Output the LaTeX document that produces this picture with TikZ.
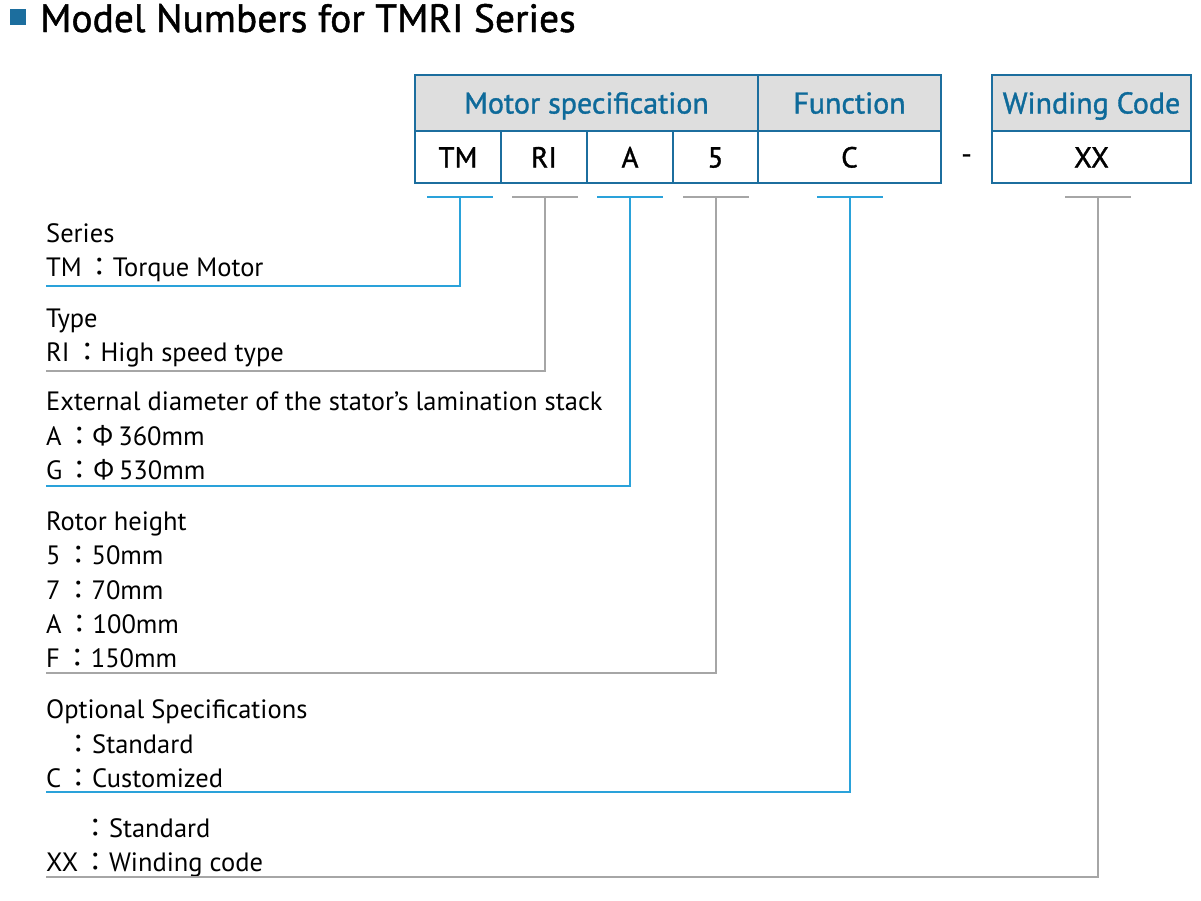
\documentclass[tikz,border=0pt]{standalone}
\usepackage{fontspec}
\setmainfont{PT Sans}
\newfontfamily\cjk{Noto Sans CJK TC}
\newfontfamily\medfont{PT Sans}[FakeBold=1.2]
\definecolor{bordblue}{HTML}{1C6E9E}
\definecolor{headblue}{HTML}{0E6A9A}
\definecolor{lineblue}{HTML}{2AA2DA}
\definecolor{linegray}{HTML}{A6A6A6}
\definecolor{headbg}{HTML}{DEDEDE}
\newcommand{\cc}{\,{\cjk ：}}
\newcommand{\phisym}{{\cjk Φ}\,}
\tikzset{
  txt/.style={anchor=base west, inner sep=0pt, font=\fontsize{26.5}{30}\selectfont},
  hcell/.style={draw=bordblue, line width=1.2pt, fill=headbg, inner sep=0pt, minimum height=56pt, text height=21pt, text depth=0pt, text=headblue, font=\medfont\fontsize{30}{33}\selectfont},
  vcell/.style={draw=bordblue, line width=1.2pt, fill=white, inner sep=0pt, minimum height=52pt, text height=21pt, text depth=0pt, font=\medfont\fontsize{29}{32}\selectfont},
  blueline/.style={draw=lineblue, line width=2pt},
  grayline/.style={draw=linegray, line width=2pt},
  outer/.style={draw=bordblue, line width=2.6pt}
}
\begin{document}
\begin{tikzpicture}[x=1pt,y=-1pt]
\useasboundingbox (0,0) rectangle (1201,900);
\fill[white] (0,0) rectangle (1201,900);
% title
\fill[bordblue] (10,9) rectangle (26,25);
\node[anchor=base west, inner sep=0pt, font=\medfont\fontsize{39.5}{42}\selectfont] (title) at (40,32) {Model Numbers for TMRI Series};
% header cells
\node[hcell, minimum width=343pt] (hmotor) at (586.5,103) {Motor specification};
\node[hcell, minimum width=183pt] (hfunc) at (849.5,103) {Function};
\node[hcell, minimum width=199pt] (hwind) at (1091.5,103) {Winding Code};
% value cells
\node[vcell, minimum width=86pt] (tm) at (458,157) {TM};
\node[vcell, minimum width=86pt] (ri) at (544,157) {RI};
\node[vcell, minimum width=86pt] (a) at (630,157) {A};
\node[vcell, minimum width=85pt] (five) at (715.5,157) {5};
\node[vcell, minimum width=183pt] (c) at (849.5,157) {C};
\node[vcell, minimum width=199pt] (xx) at (1091.5,157) {XX};
\node[inner sep=0pt, font=\medfont\fontsize{29}{32}\selectfont] (dash) at (966.5,159) {-};
% outer frames
\draw[outer] (415,75) rectangle (941,183);
\draw[outer] (992,75) rectangle (1191,183);
% texts
\node[txt] (t1a) at (46,242) {Series};
\node[txt] (t1b) at (46,276) {TM\cc Torque Motor};
\node[txt] (t2a) at (46,327) {Type};
\node[txt] (t2b) at (46,361) {RI\cc High speed type};
\node[txt] (t3a) at (46,410) {External diameter of the stator’s lamination stack};
\node[txt] (t3b) at (46,445) {A\cc\phisym 360mm};
\node[txt] (t3c) at (46,479) {G\cc\phisym 530mm};
\node[txt] (t4a) at (46,530) {Rotor height};
\node[txt] (t4b) at (46,564) {5\cc 50mm};
\node[txt] (t4c) at (46,599) {7\cc 70mm};
\node[txt] (t4d) at (46,633) {A\cc 100mm};
\node[txt] (t4e) at (46,667) {F\cc 150mm};
\node[txt] (t5a) at (46,718) {Optional Specifications};
\node[txt] (t5b) at (46,753) {\phantom{C}\cc Standard};
\node[txt] (t5c) at (46,787) {C\cc Customized};
\node[txt] (t6a) at (46,837) {\phantom{XX}\cc Standard};
\node[txt] (t6b) at (46,871) {XX\cc Winding code};
% connector coordinates
\coordinate (b1) at (460,197); \coordinate (e1) at (46,286);
\coordinate (b2) at (545,197); \coordinate (e2) at (46,371);
\coordinate (b3) at (630,197); \coordinate (e3) at (46,486);
\coordinate (b4) at (716,197); \coordinate (e4) at (46,673);
\coordinate (b5) at (850,197); \coordinate (e5) at (46,792);
\coordinate (b6) at (1098,197); \coordinate (e6) at (46,877);
% connectors
\draw[blueline] ([xshift=-33pt]b1) -- ([xshift=33pt]b1);
\draw[blueline] (b1) |- (e1);
\draw[grayline] ([xshift=-33pt]b2) -- ([xshift=33pt]b2);
\draw[grayline] (b2) |- (e2);
\draw[blueline] ([xshift=-33pt]b3) -- ([xshift=33pt]b3);
\draw[blueline] (b3) |- (e3);
\draw[grayline] ([xshift=-33pt]b4) -- ([xshift=33pt]b4);
\draw[grayline] (b4) |- (e4);
\draw[blueline] ([xshift=-33pt]b5) -- ([xshift=33pt]b5);
\draw[blueline] (b5) |- (e5);
\draw[grayline] ([xshift=-33pt]b6) -- ([xshift=33pt]b6);
\draw[grayline] (b6) |- (e6);
\end{tikzpicture}
\end{document}
